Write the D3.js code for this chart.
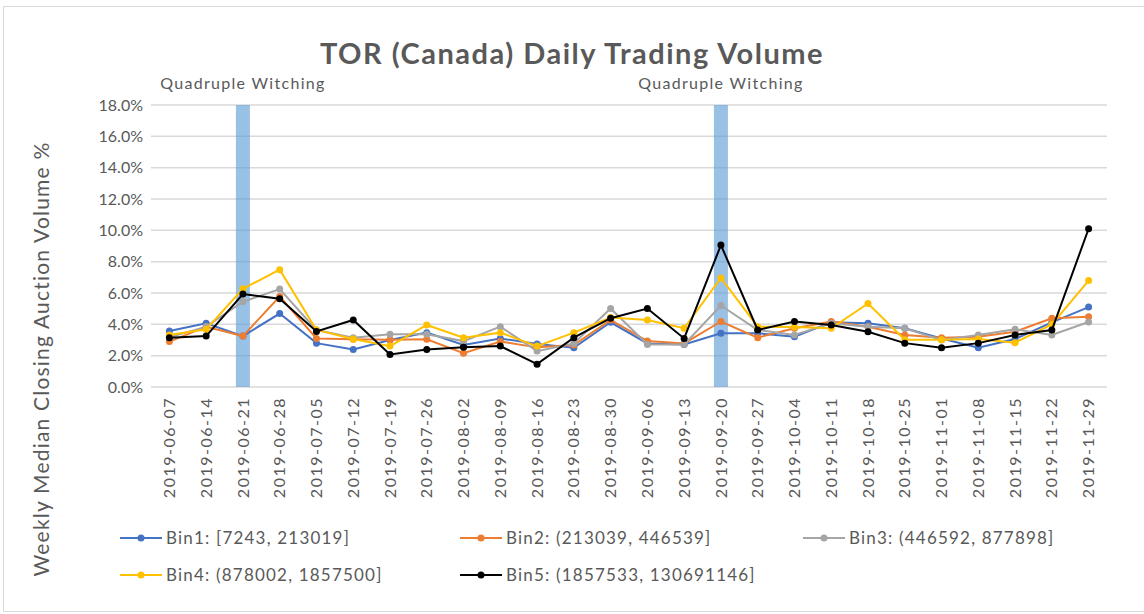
<!DOCTYPE html>
<html>
<head>
<meta charset="utf-8">
<script src="https://cdnjs.cloudflare.com/ajax/libs/d3/7.8.5/d3.min.js"></script>
<style>
body { margin: 0; background: #fff; }
text { font-family: Lato, "Open Sans", sans-serif; fill: #595959; }
</style>
</head>
<body>
<div id="chart"></div>
<script>
// weekly dates on the x axis
var dates = ["2019-06-07","2019-06-14","2019-06-21","2019-06-28","2019-07-05","2019-07-12","2019-07-19",
  "2019-07-26","2019-08-02","2019-08-09","2019-08-16","2019-08-23","2019-08-30","2019-09-06","2019-09-13",
  "2019-09-20","2019-09-27","2019-10-04","2019-10-11","2019-10-18","2019-10-25","2019-11-01","2019-11-08",
  "2019-11-15","2019-11-22","2019-11-29"]

var witching = ["2019-06-21","2019-09-20"]

var binNames = ["Bin1: [7243, 213019]","Bin2: (213039, 446539]","Bin3: (446592, 877898]",
  "Bin4: (878002, 1857500]","Bin5: (1857533, 130691146]"]

// values in percent
var bin1 = [3.58,4.07,3.25,4.69,2.8,2.4,3.0,3.47,2.68,3.1,2.74,2.5,4.13,2.78,2.72,3.43,3.43,3.21,4.13,4.07,3.75,3.1,2.5,3.06,4.13,5.1]
var bin2 = [2.9,3.85,3.25,5.78,3.1,3.04,3.02,3.04,2.16,2.9,2.53,2.68,4.28,2.93,2.78,4.18,3.15,3.75,4.18,3.85,3.32,3.15,3.21,3.53,4.39,4.48]
var bin3 = [3.17,3.85,5.44,6.25,3.64,3.15,3.36,3.36,2.93,3.85,2.29,2.78,5.01,2.72,2.72,5.2,3.64,3.32,4.07,3.85,3.75,3.0,3.32,3.68,3.32,4.15]
var bin4 = [3.32,3.68,6.27,7.49,3.64,3.06,2.61,3.96,3.15,3.47,2.61,3.47,4.43,4.28,3.75,6.96,3.85,3.83,3.75,5.33,3.02,3.02,3.06,2.83,4.0,6.79]
var bin5 = [3.15,3.25,5.93,5.63,3.55,4.28,2.08,2.4,2.53,2.61,1.46,3.15,4.39,5.01,3.1,9.06,3.64,4.18,3.96,3.53,2.8,2.5,2.8,3.32,3.64,10.1]

var yTicks = [0,2,4,6,8,10,12,14,16,18]

var colors = ["#4472C4","#ED7D31","#A5A5A5","#FFC000","#000000"]
var allBins = [bin1, bin2, bin3, bin4, bin5]

var W = 1144, H = 614
var plot = {left: 151, right: 1107, top: 105, bottom: 387}

var svg = d3.select("#chart")
  .append("svg")
  .attr("width", W)
  .attr("height", H)

// chart border
svg.append("rect")
  .attr("x", 3.5).attr("y", 6.5)
  .attr("width", W).attr("height", 605)
  .attr("fill", "#fff")
  .attr("stroke", "#d9d9d9")

var x = d3.scaleBand()
  .domain(dates)
  .range([plot.left, plot.right])
  .padding(0)

var y = d3.scaleLinear()
  .domain([0, 18])
  .range([plot.bottom, plot.top])

// gridlines
svg.append("g")
  .selectAll("line")
  .data(yTicks)
  .enter()
  .append("line")
  .attr("x1", plot.left).attr("x2", plot.right)
  .attr("y1", function(d){ return y(d) })
  .attr("y2", function(d){ return y(d) })
  .attr("stroke", "#d9d9d9")
  .attr("stroke-width", 1.5)

// quadruple witching bars
svg.append("g")
  .selectAll("rect")
  .data(witching)
  .enter()
  .append("rect")
  .attr("x", function(d){ return x(d) + x.bandwidth()/2 - 7 })
  .attr("width", 14)
  .attr("y", y(18))
  .attr("height", y(0) - y(18))
  .attr("fill", "#5B9BD5")
  .attr("opacity", 0.62)

svg.append("g")
  .selectAll("text")
  .data(witching)
  .enter()
  .append("text")
  .attr("x", function(d){ return x(d) + x.bandwidth()/2 })
  .attr("y", 89)
  .attr("text-anchor", "middle")
  .style("font-size", "16px")
  .style("letter-spacing", "1.3px")
  .text("Quadruple Witching")

// y axis
var yAxis = svg.append("g")
  .attr("transform", "translate(" + plot.left + ",0)")
  .call(d3.axisLeft(y).tickValues(yTicks).tickSize(0).tickPadding(8)
    .tickFormat(function(d){ return d.toFixed(1) + "%" }))
yAxis.select(".domain").remove()
yAxis.selectAll("text")
  .style("font-size", "16px")
  .style("font-family", "Lato, sans-serif")
  .attr("fill", "#595959")

// x axis
var xAxis = svg.append("g")
  .attr("transform", "translate(0," + plot.bottom + ")")
  .call(d3.axisBottom(x).tickSize(0))
xAxis.select(".domain").remove()
xAxis.selectAll("text")
  .attr("transform", "rotate(-90)")
  .attr("x", -10)
  .attr("y", 0)
  .attr("dy", "0.35em")
  .attr("text-anchor", "end")
  .style("font-size", "16px")
  .style("letter-spacing", "1.5px")
  .style("font-family", "Lato, sans-serif")
  .attr("fill", "#595959")

// lines and markers
var line = d3.line()
  .x(function(d, i){ return x(dates[i]) + x.bandwidth()/2 })
  .y(function(d){ return y(d) })

allBins.forEach(function(vals, k){
  svg.append("path")
    .datum(vals)
    .attr("fill", "none")
    .attr("stroke", colors[k])
    .attr("stroke-width", 2)
    .attr("d", line)
  svg.append("g")
    .selectAll("circle")
    .data(vals)
    .enter()
    .append("circle")
    .attr("cx", function(d, i){ return x(dates[i]) + x.bandwidth()/2 })
    .attr("cy", function(d){ return y(d) })
    .attr("r", 3.5)
    .attr("fill", colors[k])
})

// title
svg.append("text")
  .attr("x", 572)
  .attr("y", 64)
  .attr("text-anchor", "middle")
  .style("font-size", "29px")
  .style("font-weight", "bold")
  .style("letter-spacing", "1.5px")
  .text("TOR (Canada) Daily Trading Volume")

// y axis title
svg.append("text")
  .attr("transform", "translate(49,359) rotate(-90)")
  .attr("text-anchor", "middle")
  .style("font-size", "21px")
  .style("letter-spacing", "1.2px")
  .text("Weekly Median Closing Auction Volume %")

// legend
var legPos = [[120,538],[460,538],[803,538],[120,575],[460,575]]
var leg = svg.append("g")
  .selectAll("g")
  .data(binNames)
  .enter()
  .append("g")
  .attr("transform", function(d, i){ return "translate(" + legPos[i][0] + "," + legPos[i][1] + ")" })
leg.append("line")
  .attr("x1", 0).attr("x2", 42)
  .attr("stroke", function(d, i){ return colors[i] })
  .attr("stroke-width", 2)
leg.append("circle")
  .attr("cx", 21).attr("r", 3.5)
  .attr("fill", function(d, i){ return colors[i] })
leg.append("text")
  .attr("x", 46)
  .attr("dy", "0.35em")
  .style("font-size", "17px")
  .style("letter-spacing", "1.2px")
  .text(function(d){ return d })
</script>
</body>
</html>
